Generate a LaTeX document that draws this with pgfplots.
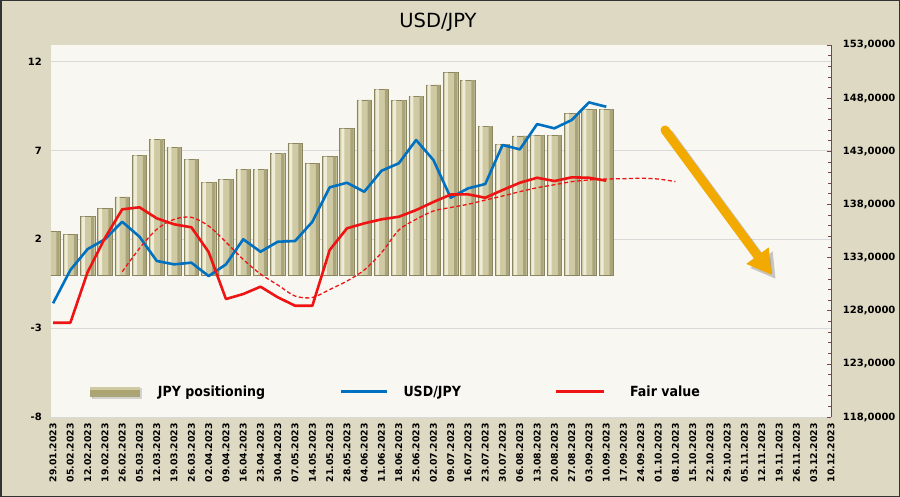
\documentclass[border=0pt]{standalone}
\usepackage{pgfplots}
\pgfplotsset{compat=1.18}
\usepackage{fontspec}
\setmainfont{DejaVu Sans}
\newfontfamily\legfont{DejaVu Sans}[FakeStretch=0.9]
\usetikzlibrary{arrows.meta}

\definecolor{bgcol}{RGB}{221,217,195}
\definecolor{plotbg}{RGB}{248,247,242}
\definecolor{gridcol}{RGB}{217,217,217}
\definecolor{usdblue}{RGB}{0,112,192}
\definecolor{fvred}{RGB}{238,20,20}
\definecolor{axcol}{RGB}{120,70,70}
\definecolor{arrowcol}{RGB}{242,170,0}
\definecolor{barB}{RGB}{238,236,215}
\definecolor{barC}{RGB}{207,202,163}
\definecolor{barD}{RGB}{140,134,96}
\definecolor{barE}{RGB}{170,164,122}
\definecolor{legbar}{RGB}{172,165,114}

\pgfplotstableread{
i v
0 2.43
1 2.26
2 3.27
3 3.72
4 4.38
5 6.72
6 7.64
7 7.19
8 6.50
9 5.20
10 5.37
11 5.95
12 5.95
13 6.85
14 7.38
15 6.26
16 6.65
17 8.23
18 9.84
19 10.44
20 9.82
21 10.06
22 10.68
23 11.38
24 10.95
25 8.37
26 7.34
27 7.81
28 7.85
29 7.85
30 9.07
31 9.31
32 9.31
}\jpypos

\pgfplotstableread{
i v
0 128.70
1 131.83
2 133.80
3 134.72
4 136.37
5 134.96
6 132.68
7 132.36
8 132.52
9 131.26
10 132.36
11 134.72
12 133.55
13 134.49
14 134.56
15 136.37
16 139.61
17 140.04
18 139.19
19 141.17
20 141.87
21 144.06
22 142.18
23 138.63
24 139.51
25 139.92
26 143.59
27 143.18
28 145.56
29 145.16
30 145.94
31 147.60
32 147.19
}\usdjpy

\pgfplotstableread{
i v
0 126.87
1 126.87
2 131.64
3 134.84
4 137.54
5 137.73
6 136.69
7 136.13
8 135.85
9 133.52
10 129.10
11 129.57
12 130.26
13 129.26
14 128.47
15 128.47
16 133.71
17 135.75
18 136.22
19 136.60
20 136.84
21 137.47
22 138.23
23 138.93
24 138.95
25 138.63
26 139.35
27 140.04
28 140.51
29 140.20
30 140.55
31 140.51
32 140.23
}\fairvalue

\pgfplotstableread{
i v
4 131.67
5 133.87
6 135.66
7 136.60
8 136.79
9 135.97
10 134.46
11 132.82
12 131.45
13 130.42
14 129.38
15 129.24
16 129.99
17 130.79
18 131.83
19 133.46
20 135.59
21 136.60
22 137.38
23 137.71
24 138.01
25 138.41
26 138.79
27 139.20
28 139.57
29 139.85
30 140.14
31 140.30
32 140.39
33 140.42
34 140.46
35 140.39
36 140.15
}\fvtrend

\begin{document}
\begin{tikzpicture}
\useasboundingbox (0,0) rectangle (900bp,497bp);
\fill[bgcol] (0,0) rectangle (900bp,497bp);

\begin{axis}[
  at={(51bp,80bp)}, anchor=south west,
  scale only axis, width=780bp, height=372bp,
  xmin=-0.12, xmax=45, ymin=-8, ymax=12.93,
  axis background/.style={fill=plotbg},
  axis line style={draw=none},
  ytick={-8,-3,2,7,12},
  ymajorgrids, grid style={draw=gridcol, line width=0.8bp},
  major tick length=0pt,
  tick style={draw=none},
  xtick={0,...,45},
  xticklabels={29.01.2023,05.02.2023,12.02.2023,19.02.2023,26.02.2023,05.03.2023,12.03.2023,19.03.2023,26.03.2023,02.04.2023,09.04.2023,16.04.2023,23.04.2023,30.04.2023,07.05.2023,14.05.2023,21.05.2023,28.05.2023,04.06.2023,11.06.2023,18.06.2023,25.06.2023,02.07.2023,09.07.2023,16.07.2023,23.07.2023,30.07.2023,06.08.2023,13.08.2023,20.08.2023,27.08.2023,03.09.2023,10.09.2023,17.09.2023,24.09.2023,01.10.2023,08.10.2023,15.10.2023,22.10.2023,29.10.2023,05.11.2023,12.11.2023,19.11.2023,26.11.2023,03.12.2023,10.12.2023},
  xticklabel style={rotate=90, anchor=east, inner sep=0pt, font=\bfseries\fontsize{9.3bp}{10bp}\selectfont},
  xticklabel shift=6bp,
  yticklabel style={anchor=east, inner sep=0pt, xshift=-9bp, font=\bfseries\fontsize{10bp}{12bp}\selectfont},
  /pgf/number format/assume math mode=true,
]
\addplot[ybar, bar width=14.5bp, bar shift=0pt, fill=barC, draw=barD, line width=0.6bp] table[x=i, y=v] {\jpypos};
\addplot[ybar, bar width=3bp, bar shift=-4.2bp, fill=barB, draw=none] table[x=i, y=v] {\jpypos};
\addplot[ybar, bar width=3.2bp, bar shift=5.0bp, fill=barE, draw=none] table[x=i, y=v] {\jpypos};
\end{axis}

\begin{axis}[
  at={(51bp,80bp)}, anchor=south west,
  scale only axis, width=780bp, height=372bp,
  xmin=-0.12, xmax=45, ymin=118, ymax=153,
  axis x line=none,
  axis y line*=right,
  axis line style={-, draw=axcol, line width=0.7bp},
  ytick={118,123,...,153},
  minor y tick num=4,
  tick align=inside,
  tick style={draw=axcol, line width=0.6bp},
  major tick length=4bp, minor tick length=3bp,
  yticklabel style={anchor=west, inner sep=0pt, xshift=11.7bp, font=\bfseries\fontsize{10bp}{12bp}\selectfont, /pgf/number format/.cd, fixed, fixed zerofill, precision=4, use comma, 1000 sep={}},
  /pgf/number format/assume math mode=true,
  no marks,
  legend columns=3,
  legend cell align=left,
  legend style={at={(0.05,0.0672)}, anchor=west, draw=none, fill=none, inner sep=0pt, outer sep=0pt, column sep=0pt,
    nodes={inner sep=0pt, anchor=west, font=\legfont\bfseries\fontsize{14bp}{16bp}\selectfont}},
]
\addlegendimage{legend image code/.code={\fill[black, opacity=0.15] (1.5bp,-6.5bp) rectangle (50.5bp,3bp); \fill[legbar] (0bp,-4.5bp) rectangle (49bp,4.5bp); \fill[barE] (0bp,-4.5bp) rectangle (49bp,-2.5bp); \fill[barC] (0bp,2.5bp) rectangle (49bp,4.5bp);}}
\addlegendentry{\hspace*{17bp}\makebox[182bp][l]{JPY positioning}}
\addplot[usdblue, line width=2.6bp, line join=round, legend image code/.code={\draw[usdblue, line width=2.6bp] (0bp,0bp) -- (46bp,0bp);}] table[x=i, y=v] {\usdjpy};
\addlegendentry{\hspace*{15bp}\makebox[151bp][l]{USD/JPY}}
\addplot[fvred, line width=2.6bp, line join=round, legend image code/.code={\draw[fvred, line width=2.6bp] (0bp,0bp) -- (48bp,0bp);}] table[x=i, y=v] {\fairvalue};
\addlegendentry{\hspace*{25bp}Fair value}
\addplot[fvred, line width=1.3bp, dash pattern=on 4bp off 2.5bp, smooth, forget plot] table[x=i, y=v] {\fvtrend};
\end{axis}

\draw[line width=9bp, line cap=round, black, opacity=0.2, -{Triangle[length=24bp, width=26bp]}] (669bp,363bp) -- (775.7bp,218bp);
\draw[line width=9bp, line cap=round, arrowcol, -{Triangle[length=24bp, width=26bp]}] (665bp,367bp) -- (771.7bp,222bp);

\node[font=\fontsize{19.5bp}{22bp}\selectfont] at (438bp,475bp) {USD/JPY};
\draw[line width=1.5bp, black!80] (0.75bp,0.75bp) rectangle (899.25bp,496.25bp);
\end{tikzpicture}
\end{document}
